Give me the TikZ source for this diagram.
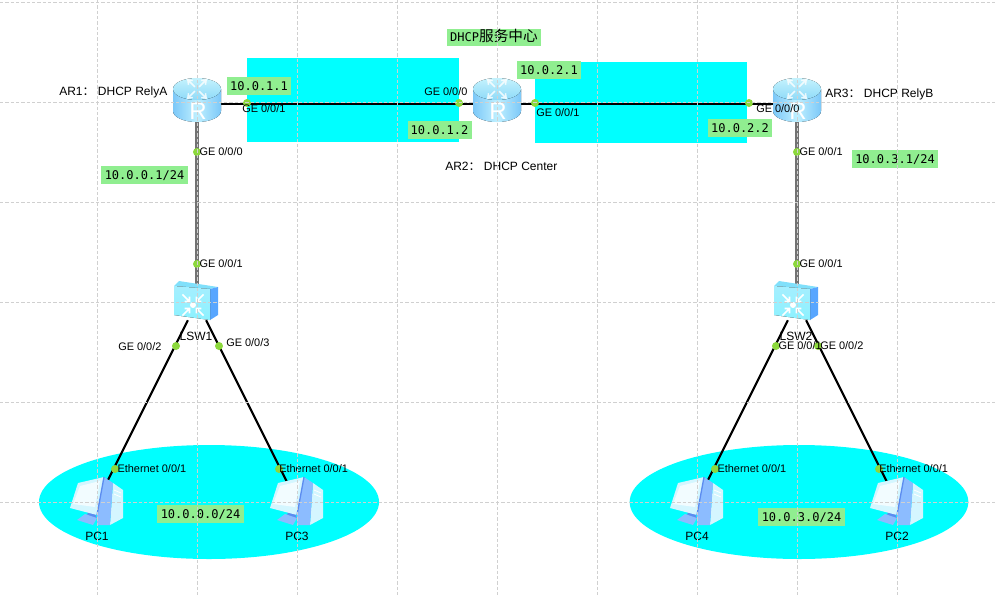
\documentclass[tikz,border=0pt]{standalone}
\usepackage{fontspec}
\setmainfont{Liberation Sans}
\newfontfamily\cjkfont{Noto Sans CJK SC}
\newfontfamily\ipfont{DejaVu Sans Mono}
\usetikzlibrary{positioning,shapes.geometric}

\definecolor{segcyan}{HTML}{00FFFF}
\definecolor{iplabel}{HTML}{90EE90}
\definecolor{portdot}{HTML}{8CD83C}
\definecolor{gridline}{HTML}{D0D0D0}
\definecolor{routerside}{HTML}{7CC8F8}
\definecolor{routermid}{HTML}{BFF0FF}
\definecolor{routertop}{HTML}{C4F2FD}
\definecolor{routerlow}{HTML}{8EDAF8}
\definecolor{swfront}{HTML}{A5EFFF}
\definecolor{swtop}{HTML}{80E0FB}
\definecolor{swside}{HTML}{58A6FF}
\definecolor{pcpale}{HTML}{D4F6FF}
\definecolor{pcblue}{HTML}{8CBCFF}
\definecolor{pcdeep}{HTML}{5C8CF0}

\tikzset{
  router/.pic={
    \fill[left color=routerside,right color=routerside,middle color=routermid]
      (-24,-13) -- (-24,9) arc[start angle=180,end angle=0,x radius=24,y radius=11] -- (24,-13) -- cycle;
    \fill[top color=routertop,bottom color=routerlow] (0,-13) ellipse[x radius=24,y radius=11];
    \foreach \ang in {45,135,225,315}
      \draw[white,opacity=.8,line width=1.1pt,rotate around={\ang:(0,-13)}]
        (3,-13) -- (13,-13) (9,-16) -- (13,-13) -- (9,-10);
    \node[white,inner sep=0pt,font=\fontsize{18}{18}\selectfont] at (1,9.5) {R};
  },
  switch/.pic={
    \fill[swtop] (-23,-16) -- (-18,-21) -- (21,-15) -- (13,-13) -- cycle;
    \fill[swside] (13,-13) -- (21,-15) -- (21,13) -- (13,18) -- cycle;
    \fill[top color=swfront,bottom color=swfront!85!cyan] (-23,-16) -- (13,-13) -- (13,18) -- (-23,13) -- cycle;
    \fill[white] (-4,3) circle[radius=3];
    \foreach \ang in {45,135,225,315}
      \draw[white,line width=1.3pt,rotate around={\ang:(-4,3)}]
        (-9,3) -- (-19,3) (-12.5,-.5) -- (-9,3) -- (-12.5,6.5);
  },
  pcicon/.pic={
    \fill[pcpale] (16,-19) -- (26,-12) -- (26,16) -- (13,23) -- cycle;
    \fill[pcblue] (7,-25) -- (16,-19) -- (13,23) -- (0,23) -- (0,13) -- cycle;
    \fill[pcdeep] (-9,9) -- (-2,11) -- (0,17) -- (-10,14) -- cycle;
    \fill[pcblue] (-20,18) -- (-12,12) -- (0,16) -- (-4,23) -- cycle;
    \fill[pcpale] (-19,-19) -- (7,-25) -- (0,13) -- (-27,6) -- cycle;
    \fill[white!70!pcpale] (-17,-16) -- (3,-21) -- (-2,5) -- (-24,2) -- cycle;
    \draw[pcdeep,line width=1pt] (7,-25) -- (0,13);
    \draw[white,line width=.6pt] (17,-12) -- (24,-9) (17,-8) -- (24,-5);
  },
  ip/.style={fill=iplabel,inner sep=0pt,minimum height=13pt,text height=7pt,text depth=1pt,font=\ipfont\fontsize{9}{9}\selectfont},
  dev/.style={inner sep=0pt,minimum width=36pt,minimum height=27pt},
  pcbox/.style={inner sep=0pt,minimum width=10pt,minimum height=28pt},
  port/.style={circle,fill=portdot,inner sep=0pt,minimum size=6pt},
  txt/.style={inner sep=0pt,font=\fontsize{8.2}{8.2}\selectfont},
  devname/.style={inner sep=0pt,font=\fontsize{9}{9}\selectfont},
  link/.style={line width=1.6pt,black},
  uplink/.style={line width=2.5pt,black!55},
  gridrule/.style={gridline,line width=.6pt,dash pattern=on 2.5pt off 1.5pt}
}

\begin{document}
\begin{tikzpicture}[x=.75pt,y=-.75pt]
    \useasboundingbox (0,0) rectangle (996,597);

    \node[fill=segcyan,minimum width=159pt,minimum height=63pt,inner sep=0pt] (segA) at (353,100) {};
    \node[fill=segcyan,minimum width=159pt,minimum height=61pt,inner sep=0pt] (segB) at (641,102.5) {};
    \node[ellipse,fill=segcyan,minimum width=255pt,minimum height=85.5pt,inner sep=0pt] (lanA) at (209,502) {};
    \node[ellipse,fill=segcyan,minimum width=254pt,minimum height=85.5pt,inner sep=0pt] (lanB) at (799,502) {};

    \node[dev] (ar1) at (197,103.8) {};
    \node[dev] (ar2) at (497,103.8) {};
    \node[dev] (ar3) at (797,103.8) {};
    \node[dev] (lsw1) at (197,302) {};
    \node[dev] (lsw2) at (797,302) {};
    \node[pcbox] (pc1) at (97,502) {};
    \node[pcbox] (pc3) at (297,502) {};
    \node[pcbox] (pc4) at (697,502) {};
    \node[pcbox] (pc2) at (897,502) {};

    \draw[link] (ar1) -- (ar2);
    \draw[link] (ar2) -- (ar3);
    \draw[uplink] (ar1) -- (lsw1);
    \draw[uplink] (ar3) -- (lsw2);
    \draw[link] (lsw1) -- (pc1);
    \draw[link] (lsw1) -- (pc3);
    \draw[link] (lsw2) -- (pc4);
    \draw[link] (lsw2) -- (pc2);

    \pic at (197,102) {router};
    \pic at (497,102) {router};
    \pic at (797,102) {router};
    \pic at (197,302) {switch};
    \pic at (797,302) {switch};
    \pic at (97,502) {pcicon};
    \pic at (297,502) {pcicon};
    \pic at (697,502) {pcicon};
    \pic at (897,502) {pcicon};

    \node[port] (p1) at (247,103) {};
    \node[port] (p2) at (197,152) {};
    \node[port] (p3) at (459,103) {};
    \node[port] (p4) at (535,103) {};
    \node[port] (p5) at (749,103) {};
    \node[port] (p6) at (797,152) {};
    \node[port] (p7) at (197,264) {};
    \node[port] (p8) at (176,346) {};
    \node[port] (p9) at (219,346) {};
    \node[port] (p10) at (797,264) {};
    \node[port] (p11) at (776,346) {};
    \node[port] (p12) at (818,346) {};
    \node[port] (p13) at (115,469) {};
    \node[port] (p14) at (279,469) {};
    \node[port] (p15) at (715,469) {};
    \node[port] (p16) at (879,469) {};

    \node[txt,anchor=west] at (242,109) {GE 0/0/1};
    \node[txt,right=-1.5pt of p2] {GE 0/0/0};
    \node[txt,anchor=west] at (424,92) {GE 0/0/0};
    \node[txt,anchor=west] at (536,113) {GE 0/0/1};
    \node[txt,anchor=west] at (756,109) {GE 0/0/0};
    \node[txt,right=-1.5pt of p6] {GE 0/0/1};
    \node[txt,right=-1.5pt of p7] {GE 0/0/1};
    \node[txt,anchor=west] at (118,347) {GE 0/0/2};
    \node[txt,anchor=west] at (226,343) {GE 0/0/3};
    \node[txt,right=-1.5pt of p10] {GE 0/0/1};
    \node[txt,right=-1.5pt of p11] {GE 0/0/1};
    \node[txt,anchor=west] at (820,346) {GE 0/0/2};
    \node[txt,right=-1.5pt of p13] {Ethernet 0/0/1};
    \node[txt,anchor=west] at (279,469) {Ethernet 0/0/1};
    \node[txt,right=-1.5pt of p15] {Ethernet 0/0/1};
    \node[txt,anchor=west] at (879,469) {Ethernet 0/0/1};

    \node[devname,anchor=west] (ar1name) at (59,92) {AR1{\cjkfont ：} DHCP RelyA};
    \node[devname,anchor=west] (ar2name) at (445,166) {AR2{\cjkfont ：} DHCP Center};
    \node[devname,anchor=west] (ar3name) at (825,94) {AR3{\cjkfont ：} DHCP RelyB};
    \node[devname] (lsw1name) at (196,336) {LSW1};
    \node[devname] (lsw2name) at (796,336) {LSW2};
    \node[devname] (pc1name) at (97,536) {PC1};
    \node[devname] (pc3name) at (297,536) {PC3};
    \node[devname] (pc4name) at (697,536) {PC4};
    \node[devname] (pc2name) at (897,536) {PC2};

    \node[ip,minimum width=48pt] (ip1) at (259,86) {10.0.1.1};
    \node[ip,minimum width=48pt] (ip2) at (439.5,130) {10.0.1.2};
    \node[ip,minimum width=48pt] (ip3) at (549,70) {10.0.2.1};
    \node[ip,minimum width=48pt] (ip4) at (740,128) {10.0.2.2};
    \node[ip,minimum width=65pt] (ip5) at (144.5,175) {10.0.0.1/24};
    \node[ip,minimum width=65pt] (ip6) at (895,159) {10.0.3.1/24};
    \node[ip,minimum width=65pt] (ip7) at (200.5,514) {10.0.0.0/24};
    \node[ip,minimum width=65pt] (ip8) at (801.5,517) {10.0.3.0/24};
    \node[ip,minimum width=71pt] (center) at (494,37.5) {DHCP{\cjkfont\fontsize{11}{11}\selectfont 服务中心}};

    \foreach \gx in {97,197,...,897}
      \draw[gridrule] (\gx,0) -- (\gx,597);
    \foreach \gy in {2,102,202,302.5,402.5,502.5}
      \draw[gridrule] (0,\gy) -- (996,\gy);
\end{tikzpicture}
\end{document}
